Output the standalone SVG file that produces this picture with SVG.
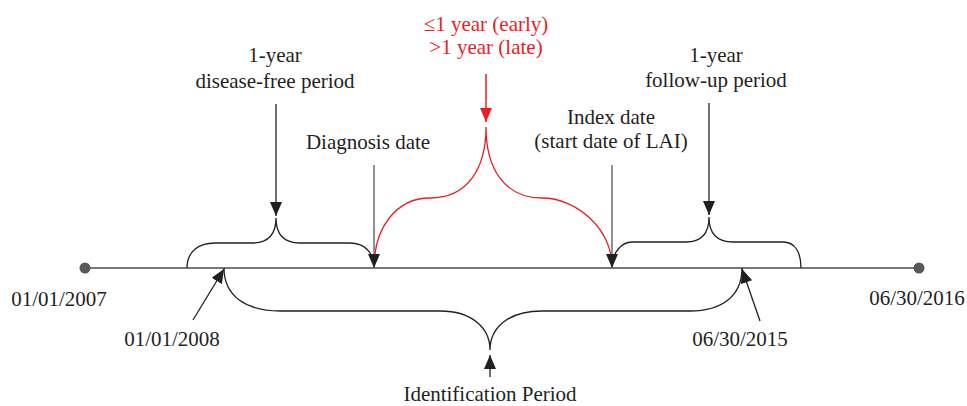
<svg xmlns="http://www.w3.org/2000/svg" width="967" height="406" viewBox="0 0 967 406">
<defs>
<style>
text{font-family:"Liberation Serif","Times New Roman",serif;font-size:21px;fill:#231f20;text-anchor:middle}
text.red{fill:#ed1c24}
.axis{stroke:#4d4d4d;stroke-width:1.3;fill:none}
.brace{stroke:#231f20;stroke-width:1.3;fill:none}
.rbrace{stroke:#ed1c24;stroke-width:1.3;fill:none}
.arr{stroke:#231f20;stroke-width:1.3;fill:none;marker-end:url(#ah)}
.garr{stroke:#6d6e71;stroke-width:1.5;fill:none;marker-end:url(#ah)}
.rarr{stroke:#ed1c24;stroke-width:1.5;fill:none;marker-end:url(#rah)}
</style>
<marker id="ah" markerUnits="userSpaceOnUse" markerWidth="14" markerHeight="12" refX="14" refY="6" orient="auto" viewBox="0 0 14 12">
<path d="M0,0 L14,6 L0,12 z" fill="#231f20"/>
</marker>
<marker id="rah" markerUnits="userSpaceOnUse" markerWidth="14" markerHeight="12" refX="14" refY="6" orient="auto" viewBox="0 0 14 12">
<path d="M0,0 L14,6 L0,12 z" fill="#ed1c24"/>
</marker>
</defs>
<rect width="967" height="406" fill="#ffffff"/>

<g id="timeline">
<line class="axis" x1="85" y1="268" x2="919" y2="268"/>
<circle cx="85" cy="268" r="5.5" fill="#58595b"/>
<circle cx="919" cy="268" r="5.5" fill="#58595b"/>
</g>

<g id="braces">
<path class="brace" d="M187,268 C187,252 198,243 215,243 L252,243 C268,243 276,235 276,218 C276,235 284,243 300,243 L350,243 C364,243 374,252 374,268"/>
<path class="brace" d="M612,268 C612,252 622,242 632,242 L686,242 C701,242 709,234 709,217 C709,234 717,242 733,242 L783,242 C795,242 801,252 801,268"/>
<path class="rbrace" d="M374,268 C374,228 396,198 430,198 C468,198 486,168 486,127 C486,168 504,198 542,198 C576,198 612,228 612,268"/>
<path class="brace" d="M224,268 C224,296 246,311 280,311 L440,311 C472,311 490,328 490,350 C490,328 508,311 542,311 L690,311 C722,311 742,296 742,268"/>
</g>

<g id="connectors">
<line class="arr" x1="276" y1="104" x2="276" y2="216"/>
<line class="garr" x1="374" y1="165" x2="374" y2="268"/>
<line class="garr" x1="612" y1="165" x2="612" y2="268"/>
<line class="arr" x1="709" y1="103" x2="709" y2="215"/>
<line class="rarr" x1="486" y1="74" x2="486" y2="122"/>
<line class="arr" x1="193" y1="320" x2="224" y2="269"/>
<line class="arr" x1="760" y1="321" x2="742" y2="269"/>
<line class="arr" x1="490" y1="377" x2="490" y2="355"/>
</g>

<g id="label-2007"><text x="59" y="306">01/01/2007</text></g>
<g id="label-2016"><text x="917" y="305">06/30/2016</text></g>
<g id="label-2008"><text x="172" y="346">01/01/2008</text></g>
<g id="label-2015"><text x="740" y="346">06/30/2015</text></g>
<g id="label-identification"><text x="490" y="401">Identification Period</text></g>
<g id="label-disease-free"><text x="275" y="62">1-year</text><text x="275" y="88">disease-free period</text></g>
<g id="label-diagnosis"><text x="368" y="149">Diagnosis date</text></g>
<g id="label-index"><text x="611" y="124">Index date</text><text x="611" y="148">(start date of LAI)</text></g>
<g id="label-follow-up"><text x="716" y="62">1-year</text><text x="716" y="87">follow-up period</text></g>
<g id="label-early-late"><text class="red" x="486" y="31">≤1 year (early)</text><text class="red" x="486" y="54">&gt;1 year (late)</text></g>
</svg>
